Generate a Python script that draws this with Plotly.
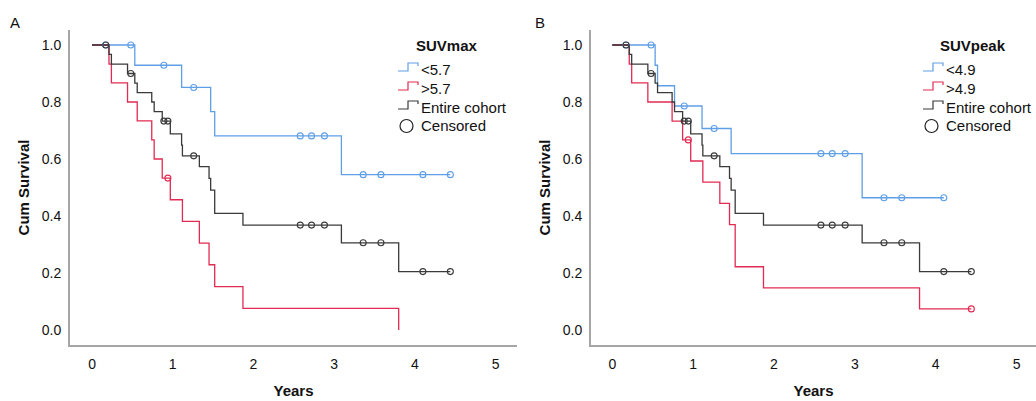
import plotly.graph_objects as go

# ---------------- data ----------------
# Panel A : SUVmax
a_low_t = [0.53, 1.11, 1.47, 1.52, 3.09]
a_low_s = [0.929, 0.851, 0.766, 0.681, 0.545]
a_low_c = [0.17, 0.48, 0.89, 1.26, 2.58, 2.72, 2.88, 3.36, 3.58, 4.10, 4.44]

a_high_t = [0.21, 0.24, 0.44, 0.56, 0.74, 0.77, 0.87, 0.97, 1.12, 1.33, 1.45, 1.52, 1.87, 3.80]
a_high_s = [0.933, 0.867, 0.800, 0.734, 0.667, 0.600, 0.533, 0.457, 0.381, 0.305, 0.229, 0.152, 0.076, 0.0]
a_high_c = [0.94]

# Panel B : SUVpeak
b_low_t = [0.53, 0.56, 0.77, 1.11, 1.47, 3.09]
b_low_s = [0.929, 0.857, 0.786, 0.707, 0.619, 0.464]
b_low_c = [0.17, 0.48, 0.89, 1.26, 2.58, 2.72, 2.88, 3.36, 3.58, 4.10]

b_high_t = [0.21, 0.24, 0.44, 0.74, 0.87, 0.97, 1.12, 1.33, 1.45, 1.52, 1.87, 3.80]
b_high_s = [0.933, 0.867, 0.800, 0.733, 0.667, 0.593, 0.519, 0.444, 0.370, 0.222, 0.148, 0.074]
b_high_c = [0.94, 4.44]

# Entire cohort (same in both panels)
all_t = [0.21, 0.24, 0.44, 0.53, 0.56, 0.74, 0.77, 0.87, 0.97, 1.11, 1.12,
         1.33, 1.45, 1.47, 1.52, 1.87, 3.09, 3.80]
all_s = [0.967, 0.933, 0.900, 0.866, 0.833, 0.800, 0.766, 0.733, 0.688, 0.649, 0.611,
         0.573, 0.532, 0.491, 0.409, 0.368, 0.306, 0.205]
all_c = [0.17, 0.48, 0.89, 0.94, 1.26, 2.58, 2.72, 2.88, 3.36, 3.58, 4.10, 4.44]

legend_titles = ["SUVmax", "SUVpeak"]
group_names = [["<5.7", ">5.7", "Entire cohort"], ["<4.9", ">4.9", "Entire cohort"]]
censor_label = "Censored"
panel_letters = ["A", "B"]

x_ticks = [0, 1, 2, 3, 4, 5]
y_ticks = [0.0, 0.2, 0.4, 0.6, 0.8, 1.0]

BLUE = "#5f9fe6"
RED = "#e22a52"
BLACK = "#3a3a3a"
AXIS = "#a6a6a6"
TXT = "#111111"
FONT = "Liberation Sans, Arial, sans-serif"
W, H = 1036, 401

panels = [
    (a_low_t, a_low_s, a_low_c, a_high_t, a_high_s, a_high_c),
    (b_low_t, b_low_s, b_low_c, b_high_t, b_high_s, b_high_c),
]


def step_xy(times, surv, cens):
    xs = [0.0] + list(times)
    ys = [1.0] + list(surv)
    if cens and max(cens) > xs[-1]:
        xs.append(max(cens))
        ys.append(ys[-1])
    return xs, ys


def surv_at(times, surv, c):
    val = 1.0
    for t, s in zip(times, surv):
        if t <= c:
            val = s
    return val


def px(x):
    return x / W


def py(y):
    return (H - y) / H


fig = go.Figure()

for i, (lt, ls, lc, ht, hs, hc) in enumerate(panels):
    xa = "x" if i == 0 else "x2"
    ya = "y" if i == 0 else "y2"
    groups = [
        (group_names[i][0], lt, ls, lc, BLUE),
        (group_names[i][1], ht, hs, hc, RED),
        (group_names[i][2], all_t, all_s, all_c, BLACK),
    ]
    for name, t, s, c, col in groups:
        xs, ys = step_xy(t, s, c)
        fig.add_trace(go.Scatter(
            x=xs, y=ys, mode="lines", line=dict(shape="hv", color=col, width=1.3),
            name=name, showlegend=False, xaxis=xa, yaxis=ya, hoverinfo="skip"))
    for name, t, s, c, col in groups:
        fig.add_trace(go.Scatter(
            x=c, y=[surv_at(t, s, v) for v in c], mode="markers",
            marker=dict(symbol="circle-open", size=6, color=col, line=dict(width=1.1, color=col)),
            name=name + " censored", showlegend=False, xaxis=xa, yaxis=ya, hoverinfo="skip"))

ydom = [(H - 345) / H, (H - 30) / H]

axis_common = dict(
    showline=True, linecolor=AXIS, linewidth=2, showgrid=False, zeroline=False,
    ticks="outside", tickcolor="rgba(0,0,0,0)",
    tickfont=dict(family=FONT, size=14, color=TXT), automargin=False,
)
xtitle = dict(text="<b>Years</b>", font=dict(size=15, family=FONT, color=TXT), standoff=15)
ytitle = dict(text="<b>Cum Survival</b>", font=dict(size=15, family=FONT, color=TXT), standoff=8)

# ---- manual legends (SPSS-style step icons) ----
shapes = []
annotations = []
legend_pos = [(447, 398), (973, 923)]   # (title centre x, icon left x)
row_y = [69, 88, 107, 126]
icon_cols = [BLUE, RED, BLACK]
for i in range(2):
    tx, ix = legend_pos[i]
    annotations.append(dict(text="<b>%s</b>" % legend_titles[i], x=px(tx), y=py(45),
                            xref="paper", yref="paper", showarrow=False, xanchor="center",
                            yanchor="middle", font=dict(size=15, family=FONT, color=TXT)))
    labels = group_names[i] + [censor_label]
    for k, lab in enumerate(labels):
        annotations.append(dict(text=lab, x=px(ix + 21), y=py(row_y[k]), xref="paper", yref="paper",
                                showarrow=False, xanchor="left", yanchor="middle",
                                font=dict(size=15, family=FONT, color=TXT)))
        yk = row_y[k]
        if k < 3:
            path = "M %f %f L %f %f L %f %f L %f %f L %f %f" % (
                px(ix), py(yk + 2), px(ix + 10), py(yk + 2), px(ix + 10), py(yk - 6),
                px(ix + 20), py(yk - 6), px(ix + 20), py(yk - 3))
            shapes.append(dict(type="path", path=path, xref="paper", yref="paper",
                               line=dict(color=icon_cols[k], width=1.2)))
        else:
            shapes.append(dict(type="circle", xref="paper", yref="paper",
                               x0=px(ix + 2), x1=px(ix + 15), y0=py(yk + 6.5), y1=py(yk - 6.5),
                               line=dict(color="#222", width=1.2)))
    annotations.append(dict(text=panel_letters[i], x=px(15 if i == 0 else 540), y=py(22),
                            xref="paper", yref="paper", showarrow=False, xanchor="center",
                            yanchor="middle", font=dict(size=15, family=FONT, color=TXT)))

fig.update_layout(
    width=W, height=H, autosize=False, margin=dict(l=0, r=0, t=0, b=0),
    paper_bgcolor="white", plot_bgcolor="white", showlegend=False,
    font=dict(family=FONT, color=TXT),
    xaxis=dict(domain=[70 / W, 517 / W], range=[-0.273, 5.266], tickvals=x_ticks, ticklen=5,
               title=xtitle, **axis_common),
    yaxis=dict(domain=ydom, range=[-0.0526, 1.0526], tickvals=y_ticks, tickformat=".1f", ticklen=4,
               title=ytitle, **axis_common),
    xaxis2=dict(domain=[591 / W, 1.0], range=[-0.263, 5.24], tickvals=x_ticks, anchor="y2", ticklen=5,
                title=xtitle, **axis_common),
    yaxis2=dict(domain=ydom, range=[-0.0526, 1.0526], tickvals=y_ticks, tickformat=".1f", anchor="x2",
                ticklen=4, title=ytitle, **axis_common),
    shapes=shapes,
    annotations=annotations,
)

fig.write_html("out.html", config={"displayModeBar": False},
               post_script="document.body.style.margin='0';")
